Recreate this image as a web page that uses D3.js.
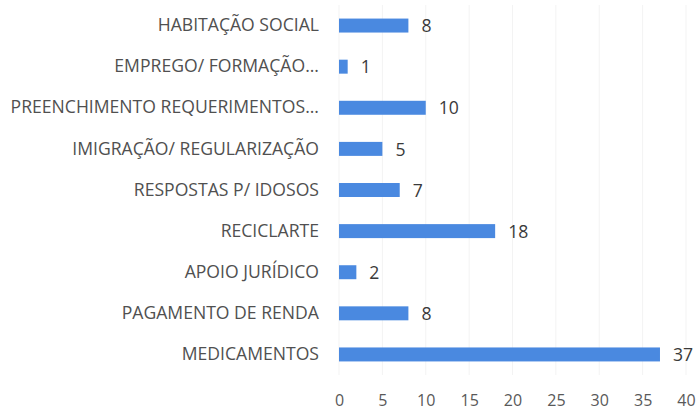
<!DOCTYPE html>
<html>
<head>
<meta charset="utf-8"/>
<script src="https://d3js.org/d3.v7.min.js"></script>
<style>
  body { margin: 0; background: #fff; }
  text { font-family: "Open Sans", sans-serif; }
</style>
</head>
<body>
<div id="chart"></div>
<script>
    var categories = [
        "HABITAÇÃO SOCIAL",
        "EMPREGO/ FORMAÇÃO...",
        "PREENCHIMENTO REQUERIMENTOS...",
        "IMIGRAÇÃO/ REGULARIZAÇÃO",
        "RESPOSTAS P/ IDOSOS",
        "RECICLARTE",
        "APOIO JURÍDICO",
        "PAGAMENTO DE RENDA",
        "MEDICAMENTOS"
    ];
    var values = [8, 1, 10, 5, 7, 18, 2, 8, 37];
    var xTicks = [0, 5, 10, 15, 20, 25, 30, 35, 40];

    var W = 699, H = 410;
    var margin = {top: 5, right: 13, bottom: 35, left: 339};
    var width = W - margin.left - margin.right,
        height = H - margin.top - margin.bottom;

    var svg = d3.select("#chart")
        .append("svg")
        .attr("width", W)
        .attr("height", H)
        .append("g")
        .attr("transform", "translate(" + margin.left + "," + margin.top + ")");

    var x = d3.scaleLinear()
        .domain([0, 40])
        .range([0, width]);

    var y = d3.scaleBand()
        .domain(categories)
        .range([0, height])
        .paddingInner(0.66)
        .paddingOuter(0.33);

    // faint gridlines
    svg.selectAll("line.grid")
        .data(xTicks)
        .enter()
        .append("line")
        .attr("class", "grid")
        .attr("x1", function(d) { return x(d); })
        .attr("x2", function(d) { return x(d); })
        .attr("y1", 0)
        .attr("y2", height)
        .attr("stroke", "#f3f3f3")
        .attr("stroke-width", 1);

    // x axis (labels only)
    var xAxis = svg.append("g")
        .attr("transform", "translate(0," + height + ")")
        .call(d3.axisBottom(x).tickValues(xTicks).tickSize(0).tickPadding(20));
    xAxis.select(".domain").remove();
    xAxis.selectAll("text")
        .style("font-family", "'Open Sans', sans-serif")
        .style("font-size", "16px")
        .attr("fill", "#595959");

    // y axis (category labels)
    var yAxis = svg.append("g")
        .call(d3.axisLeft(y).tickSize(0).tickPadding(20));
    yAxis.select(".domain").remove();
    yAxis.selectAll("text")
        .style("font-family", "'Open Sans', sans-serif")
        .style("font-size", "17.6px")
        .attr("fill", "#505050");

    // bars
    svg.selectAll("rect.bar")
        .data(values)
        .enter()
        .append("rect")
        .attr("class", "bar")
        .attr("x", x(0))
        .attr("y", function(d, i) { return y(categories[i]); })
        .attr("width", function(d) { return x(d) - x(0); })
        .attr("height", y.bandwidth())
        .attr("fill", "#4a89e0");

    // value labels
    svg.selectAll("text.val")
        .data(values)
        .enter()
        .append("text")
        .attr("class", "val")
        .attr("x", function(d) { return x(d) + 13; })
        .attr("y", function(d, i) { return y(categories[i]) + y.bandwidth() / 2; })
        .attr("dy", "0.38em")
        .style("font-size", "17.6px")
        .attr("fill", "#3a3a3a")
        .text(function(d) { return d; });
</script>
</body>
</html>
